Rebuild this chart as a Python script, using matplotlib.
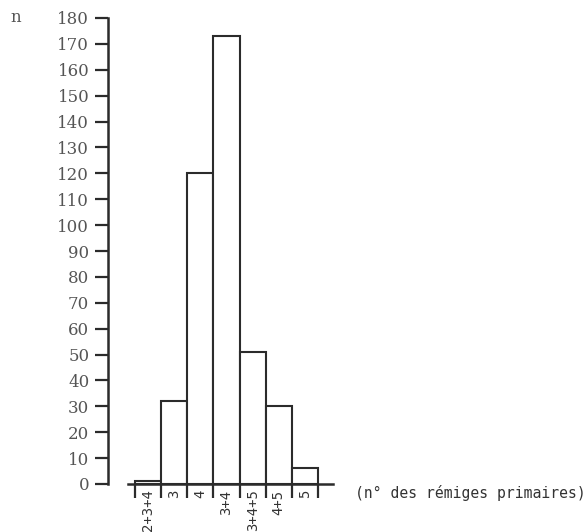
import matplotlib
matplotlib.use("Agg")
import matplotlib.pyplot as plt
import numpy as np

categories = ["2+3+4", "3", "4", "3+4", "3+4+5", "4+5", "5"]
counts = [1, 32, 120, 173, 51, 30, 6]
yticks = list(range(0, 181, 10))

W, H = 587, 532
fig = plt.figure(figsize=(W / 100, H / 100), dpi=100)
ax = fig.add_axes([0, 0, 1, 1])
fig.patch.set_facecolor("white")
ax.set_facecolor("white")

# pixel mapping
px_per_x = 26.14
x0_px = 135.0          # left edge of first bar
px_per_y = (484 - 18) / 180.0
y0_px = 484.0


def xd(px):
    return -0.5 + (px - x0_px) / px_per_x


def yd(py):
    return (y0_px - py) / px_per_y


ax.set_xlim(xd(0), xd(W))
ax.set_ylim(yd(H), yd(0))

ink = "#2b2b2b"
x = np.arange(len(categories))
ax.bar(x, counts, width=1.0, facecolor="white", edgecolor=ink, linewidth=1.5, zorder=3)

for s in ["top", "right"]:
    ax.spines[s].set_visible(False)
ax.spines["left"].set_position(("data", xd(108)))
ax.spines["left"].set_bounds(0, 180)
ax.spines["left"].set_linewidth(1.8)
ax.spines["left"].set_color(ink)
ax.spines["bottom"].set_position(("data", 0))
ax.spines["bottom"].set_bounds(xd(128), xd(333))
ax.spines["bottom"].set_linewidth(1.8)
ax.spines["bottom"].set_color(ink)
ax.spines["bottom"].set_zorder(4)

ax.set_yticks(yticks)
ax.set_yticklabels([str(v) for v in yticks], family="DejaVu Serif", fontsize=12, color="#555555")
ax.tick_params(axis="y", direction="out", length=9.5, width=1.6, color=ink, pad=4)

edges = np.arange(len(categories) + 1) - 0.5
ax.set_xticks(edges)
ax.set_xticklabels([""] * len(edges))
ax.tick_params(axis="x", which="major", direction="out", length=10, width=1.6, color=ink)
ax.set_xticks(x, minor=True)
ax.set_xticklabels(categories, minor=True, rotation=90, family="DejaVu Sans Mono",
                   fontsize=10, color="#333333", va="top", ha="center")
ax.tick_params(axis="x", which="minor", length=0, pad=4)

ax.text(xd(10), 180, "n", family="DejaVu Serif", fontsize=12, color="#555555",
        ha="left", va="center")
ax.text(xd(355), yd(493), "(n° des rémiges primaires)", family="DejaVu Sans Mono",
        fontsize=10.6, color="#333333", ha="left", va="center")

fig.savefig("out.png", dpi=100, facecolor="white")
